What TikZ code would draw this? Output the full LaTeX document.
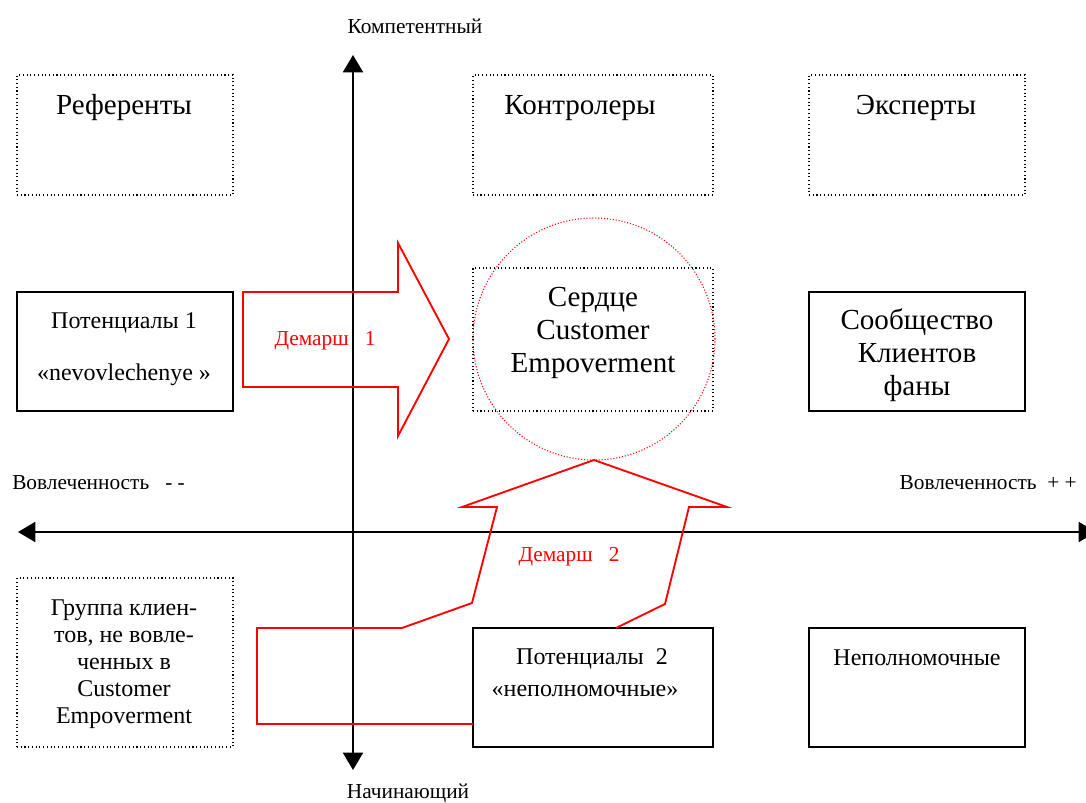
\documentclass[tikz,border=0pt]{standalone}
\usepackage{fontspec}
\setmainfont{Liberation Serif}
\usetikzlibrary{arrows.meta}
\begin{document}
\begin{tikzpicture}[x=0.75pt, y=-0.75pt]
		\tikzset{dotbox/.style={draw, dotted, thick, inner sep=0, minimum width=162pt, minimum height=90pt}}
		\tikzset{solidbox/.style={draw, line width=1.1pt, inner sep=0, minimum width=162pt, minimum height=89.25pt}}
		\tikzset{big/.style={font=\fontsize{21.8}{24.75}\selectfont, align=center, inner sep=0}}
		\tikzset{small/.style={font=\fontsize{18}{20}\selectfont, align=center, inner sep=0}}
		\tikzset{axlabel/.style={font=\fontsize{16}{18}\selectfont, inner sep=0}}
		\tikzset{axis/.style={line width=1.5pt, -{Triangle[length=13pt, width=15pt]}}}
		\tikzset{move/.style={draw=red, line width=1.4pt, line join=miter}}
		\useasboundingbox (0,0) rectangle (1086,803);
		% axes
		\coordinate (ytop) at (353,55);
		\coordinate (ybot) at (353,770);
		\coordinate (xleft) at (18,532);
		\coordinate (xright) at (1096,532);
		\coordinate (mid) at (353,532);
		\draw[axis] (mid) -- (ytop);
		\draw[axis] (mid) -- (ybot);
		\draw[axis] (mid) -- (xleft);
		\draw[axis] (mid) -- (xright);
		\draw[white, line width=0.8pt] (497,533.2) -- (665,533.2);
		\node[axlabel] (comp) at (415,26) {Компетентный};
		\node[axlabel] (beg) at (408,793.5) {Начинающий};
		\node[axlabel, anchor=west] (invminus) at (12,483) {Вовлеченность \ \ - -};
		\node[axlabel, anchor=east] (invplus) at (1077,483) {Вовлеченность \ + +};
		% boxes
		\node[dotbox] (ref) at (125,135) {};
		\node[dotbox, minimum width=180pt] (ctrl) at (593,135) {};
		\node[dotbox] (exp) at (917,135) {};
		\node[solidbox] (pot1) at (125,351.5) {};
		\node[dotbox, minimum width=180pt, minimum height=107.25pt] (core) at (593,339.5) {};
		\node[solidbox] (comm) at (917,351.5) {};
		\node[dotbox, minimum height=126.75pt] (grp) at (125,662.5) {};
		\node[solidbox, minimum width=180pt] (pot2) at (593,687.5) {};
		\node[solidbox] (nep) at (917,687.5) {};
		% texts
		\node[big] (reft) at (124,108) {Референты};
		\node[big] (ctrlt) at (580,108) {Контролеры};
		\node[big] (expt) at (916,108) {Эксперты};
		\node[small] (pot1a) at (124,323) {Потенциалы 1};
		\node[small] (pot1b) at (124,375) {«nevovlechenye »};
		\node[big] (coret) at (593,333) {Сердце\\Customer\\Empoverment};
		\node[big] (commt) at (917,355.5) {Сообщество\\Клиентов\\фаны};
		\node[small, font=\fontsize{18}{20.25}\selectfont] (grpt) at (124,664.5) {Группа клиен-\\тов, не вовле-\\ченных в\\Customer\\Empoverment};
		\node[small] (pot2a) at (592,659) {Потенциалы \ 2};
		\node[small] (pot2b) at (585,691) {«неполномочные»};
		\node[small] (nept) at (917,658) {Неполномочные};
		% red moves
		\node[draw=red, line width=0.8pt, dash pattern=on 0.8pt off 1.4pt, circle, inner sep=0, minimum size=181.5pt] (heart) at (594,339) {};
		\draw[move] (243,292) -- (398,292) -- (398,243) -- (449,339) -- (398,436) -- (398,387) -- (243,387) -- cycle;
		\draw[move] (616,628) -- (665,604) -- (689,507) -- (727,507) -- (594,460) -- (462,507) -- (497,507)
			-- (472,603) -- (402,628) -- (257,628) -- (257,724) -- (473,724);
		\node[axlabel, text=red] (dem1) at (325,341) {Демарш \ \ 1};
		\node[axlabel, text=red] (dem2) at (569,557) {Демарш \ \ 2};
\end{tikzpicture}
\end{document}
